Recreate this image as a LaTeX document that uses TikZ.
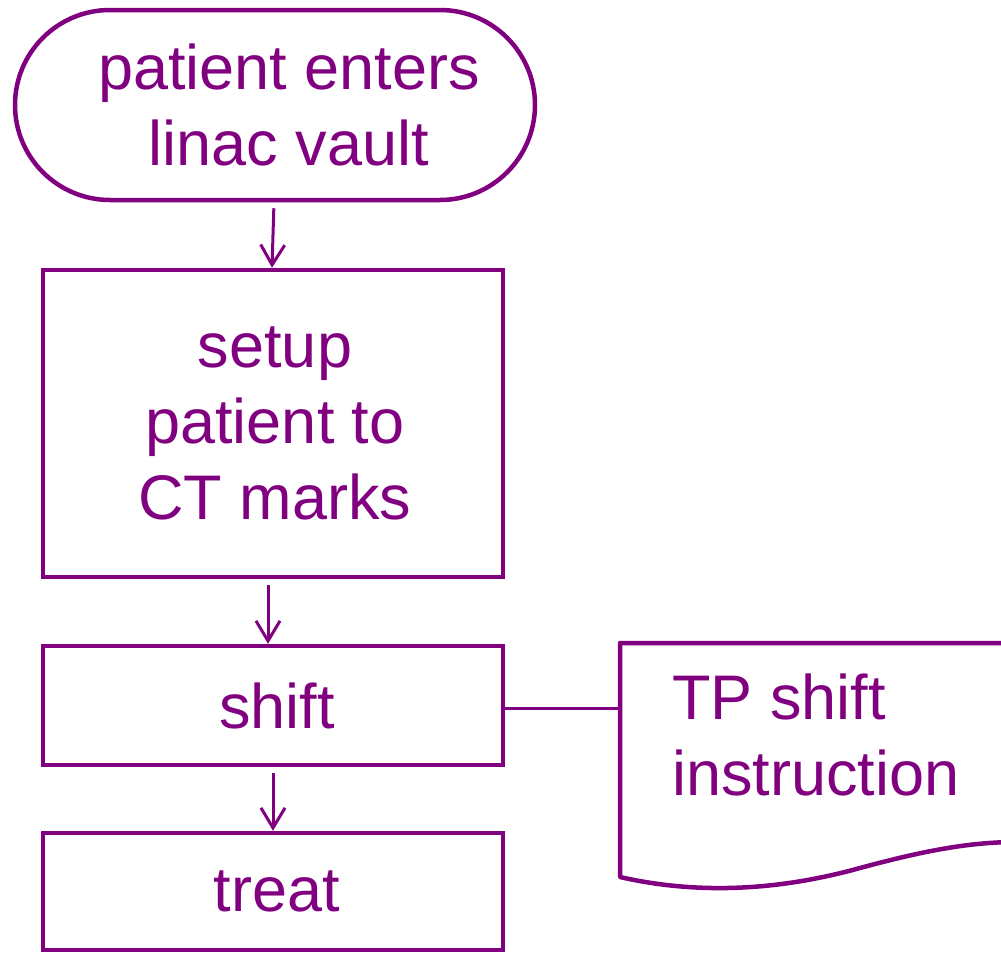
\documentclass[tikz,border=0pt]{standalone}
\usepackage{fontspec}
\setmainfont{Liberation Sans}
\usetikzlibrary{shapes.misc,arrows.meta}
\definecolor{purp}{HTML}{800080}
\begin{document}
\begin{tikzpicture}[x=1pt,y=-1pt,
  every node/.style={text=purp,font=\fontsize{63}{76}\selectfont,inner sep=0pt},
  outline/.style={draw=purp,line width=4.5pt},
  term/.style={outline,rounded rectangle,minimum width=520pt,minimum height=190pt,align=center},
  stepbox/.style={outline,rectangle,minimum width=460pt,align=center},
  flow/.style={draw=purp,line width=3pt,shorten <=6pt,-{Straight Barb[length=20pt,width=24pt,line width=3pt]}},
  link/.style={draw=purp,line width=3pt}]
\useasboundingbox (0,0) rectangle (1001,953);

% flowchart steps
\node[term] (start) at (275,105) {\hspace*{28pt}patient enters\\\hspace*{28pt}linac vault};
\node[stepbox,minimum height=307pt] (setup) at (273,423.5) {\hspace*{4pt}setup\\\hspace*{4pt}patient to\\\hspace*{4pt}CT marks};
\node[stepbox,minimum height=119pt] (shift) at (273,705.5) {\hspace*{8pt}shift};
\node[stepbox,minimum height=117pt] (treat) at (273,891.5) {\hspace*{8pt}treat};

% document symbol with wavy bottom edge, running off to the right
\draw[outline,line join=round]
  (1010,643) -- (620,643) -- (620,877)
  .. controls (690,893) and (770,893) .. (860,868)
  .. controls (930,849) and (970,843) .. (1010,842);
\node[anchor=west,align=left] (doc) at (672,735) {TP shift\\instruction};
\coordinate (docin) at (620,708);

% connectors
\draw[flow] ([xshift=-1pt]start.south) -- ([xshift=-1pt]setup.north);
\draw[flow] ([xshift=-5pt]setup.south) -- ([xshift=-5pt]shift.north);
\draw[flow] (shift.south) -- (treat.north);
\draw[link] (shift.east |- docin) -- (docin);
\end{tikzpicture}
\end{document}
